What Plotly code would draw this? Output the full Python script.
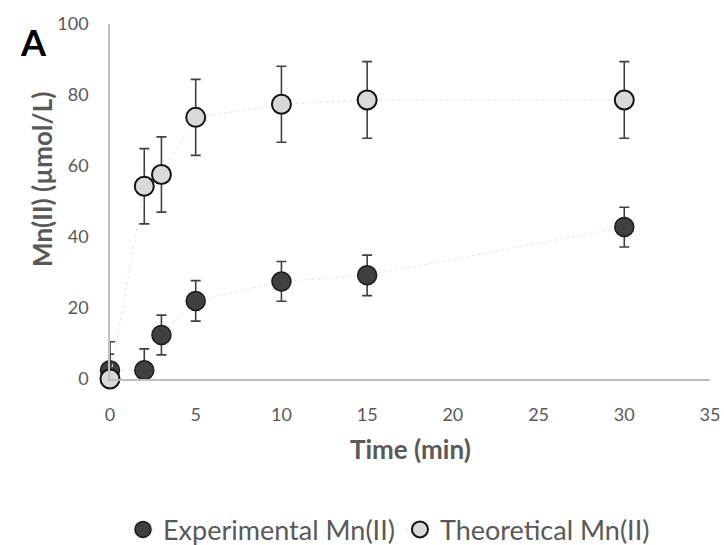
import plotly.graph_objects as go

time_min = [0, 2, 3, 5, 10, 15, 30]
experimental = [2.5, 2.5, 12.4, 22.0, 27.5, 29.2, 42.8]
experimental_err = [8.0, 6.0, 5.6, 5.7, 5.6, 5.7, 5.6]
theoretical = [0.0, 54.3, 57.6, 73.7, 77.4, 78.6, 78.6]
theoretical_err = [7.0, 10.6, 10.6, 10.7, 10.7, 10.8, 10.8]

x_ticks = [0, 5, 10, 15, 20, 25, 30, 35]
y_ticks = [0, 20, 40, 60, 80, 100]

FONT = "Lato"
GRAY = "#595959"

fig = go.Figure()

fig.add_trace(go.Scatter(
    x=time_min, y=experimental, name="Experimental Mn(II)",
    mode="lines+markers",
    line=dict(color="#dde5f2", width=1, dash="dot"),
    marker=dict(size=19, color="#404040", line=dict(color="#1a1a1a", width=1.5)),
    error_y=dict(type="data", array=experimental_err, visible=True,
                 color="#404040", thickness=1.6, width=5),
))
fig.add_trace(go.Scatter(
    x=time_min, y=theoretical, name="Theoretical Mn(II)",
    mode="lines+markers",
    line=dict(color="#dde5f2", width=1, dash="dot"),
    marker=dict(size=19, color="#d9d9d9", line=dict(color="#111111", width=2)),
    error_y=dict(type="data", array=theoretical_err, visible=True,
                 color="#404040", thickness=1.6, width=5),
))

fig.update_layout(
    width=724, height=545,
    margin=dict(l=110, r=14, t=24, b=166, autoexpand=False),
    paper_bgcolor="white", plot_bgcolor="white",
    font=dict(family=FONT, color=GRAY),
    showlegend=True,
    legend=dict(orientation="h", x=0.465, xanchor="center", y=-0.425, yanchor="middle",
                font=dict(size=27, color=GRAY, family=FONT), traceorder="normal"),
    xaxis=dict(range=[0, 35], tickvals=x_ticks, showgrid=False, zeroline=False,
               showline=True, linecolor="#bfbfbf", linewidth=1.5, automargin=False,
               ticklabeloverflow="allow",
               ticks="", ticklabelstandoff=19, tickfont=dict(size=18, color=GRAY)),
    yaxis=dict(range=[0, 100], tickvals=y_ticks, showgrid=False, zeroline=False,
               showline=True, linecolor="#bfbfbf", linewidth=1.5, automargin=False,
               ticks="", ticklabelstandoff=16, tickfont=dict(size=18, color=GRAY)),
    annotations=[
        dict(text="<b>A</b>", xref="paper", yref="paper", x=(33 - 110) / 600, y=(379 - 42) / 355,
             xanchor="center", yanchor="middle", showarrow=False,
             font=dict(size=36, color="black", family=FONT)),
        dict(text="<b>Time (min)</b>", xref="paper", yref="paper", x=0.5, y=(379 - 449) / 355,
             xanchor="center", yanchor="middle", showarrow=False,
             font=dict(size=26, color=GRAY, family=FONT)),
        dict(text="<b>Mn(II) (µmol/L)</b>", xref="paper", yref="paper", x=(42 - 110) / 600,
             y=(379 - 180) / 355, textangle=-90,
             xanchor="center", yanchor="middle", showarrow=False,
             font=dict(size=26, color=GRAY, family=FONT)),
    ],
)
fig.update_traces(cliponaxis=False)

fig.write_html("out.html",
               config={"displayModeBar": False},
               post_script="document.body.style.margin='0';document.body.style.overflow='hidden';")
